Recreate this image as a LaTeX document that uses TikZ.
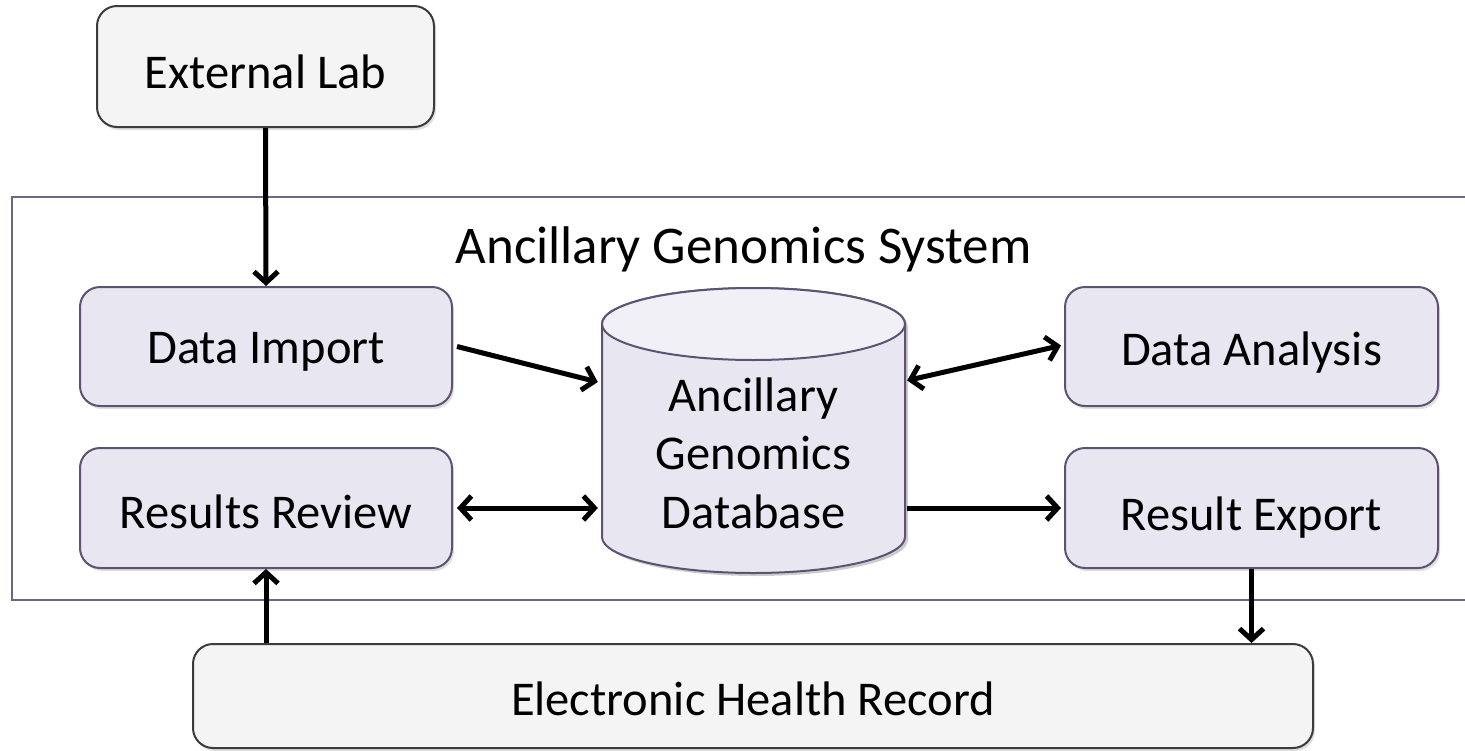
\documentclass[tikz,border=0pt]{standalone}
\usepackage{fontspec}
\setmainfont{Carlito}
\usetikzlibrary{arrows.meta,shadows,calc}
\definecolor{boxfill}{HTML}{E8E6F0}
\definecolor{boxline}{HTML}{5E5273}
\definecolor{grayfill}{HTML}{F4F4F4}
\definecolor{grayline}{HTML}{3C3C3C}
\definecolor{frameline}{HTML}{6F6585}
\tikzset{
  txt/.style={font=\fontsize{48.5}{58.5}\selectfont},
  lift/.style={inner sep=0pt, text height=#1, text depth=0pt},
  modbox/.style={txt, draw=boxline, fill=boxfill, line width=2pt, rounded corners=20pt,
    drop shadow={shadow xshift=2pt, shadow yshift=-3pt, opacity=0.25}},
  extbox/.style={txt, draw=grayline, fill=grayfill, line width=2pt, rounded corners=20pt,
    drop shadow={shadow xshift=2pt, shadow yshift=-3pt, opacity=0.25}},
  arr/.style={line width=5pt, -{Straight Barb[length=11pt,width=24pt]}},
  biarr/.style={line width=5pt, {Straight Barb[length=11pt,width=24pt]}-{Straight Barb[length=11pt,width=24pt]}},
}
\begin{document}
\begin{tikzpicture}[x=1pt,y=-1pt]
\useasboundingbox (0,0) rectangle (1465,750);
\clip (0,0) rectangle (1465,750);

% system frame, running off the right edge
\draw[frameline, line width=2pt] (1520,197) -- (12,197) -- (12,600) -- (1520,600);
\node[font=\fontsize{53}{60}\selectfont, anchor=base] (title) at (743.5,263) {Ancillary Genomics System};

% outside systems
\node[extbox, lift=43pt, minimum width=337pt, minimum height=121pt] (ext) at (265.5,66.5) {External Lab};
\node[extbox, lift=38pt, minimum width=1120pt, minimum height=104pt] (ehr) at (753,696) {Electronic Health Record};

% modules
\node[modbox, lift=33pt, minimum width=372pt, minimum height=119pt] (imp) at (266,346.5) {Data Import};
\node[modbox, lift=40pt, minimum width=372pt, minimum height=120pt] (rev) at (266,508) {Results Review};
\node[modbox, lift=37pt, minimum width=373pt, minimum height=119pt] (ana) at (1251.5,346.5) {Data Analysis};
\node[modbox, lift=44pt, minimum width=373pt, minimum height=120pt] (exp) at (1251.5,508) {Result Export};

% database cylinder
\node[minimum width=303pt, minimum height=285pt, inner sep=0pt] (db) at (753.5,430.5) {};
\fill[black, opacity=0.2] (605,327) -- (605,540) arc[start angle=180,end angle=360,x radius=151.5pt,y radius=36pt]
  -- (908,327) arc[start angle=0,end angle=180,x radius=151.5pt,y radius=36pt] -- cycle;
\filldraw[fill=boxfill, draw=boxline, line width=2pt]
  (602,324) -- (602,537) arc[start angle=180,end angle=360,x radius=151.5pt,y radius=36pt]
  -- (905,324) arc[start angle=0,end angle=180,x radius=151.5pt,y radius=36pt] -- cycle;
\fill[fill=boxfill!60!white] (753.5,324) ellipse[x radius=151.5pt,y radius=36pt];
\draw[boxline, line width=2pt] (753.5,324) ellipse[x radius=151.5pt,y radius=36pt];
\node[txt, align=center] (dbtext) at (753.5,453) {Ancillary\\Genomics\\Database};

% connectors
\draw[arr] (ext.south) -- (imp.north);
\draw[arr] ($(imp.east)+(4,0)$) -- ($(db.west)+(-4,-48.5)$);
\draw[biarr] ($(rev.east)+(4,0)$) -- ($(db.west |- rev.east)+(-4,0)$);
\draw[biarr] ($(db.east)+(2,-50)$) -- ($(ana.west)+(-3,-1)$);
\draw[arr] ($(db.east |- exp.west)+(2,0)$) -- ($(exp.west)+(-3,0)$);
\draw[arr] (exp.south) -- (exp.south |- ehr.north);
\draw[arr] (rev.south |- ehr.north) -- (rev.south);
\end{tikzpicture}
\end{document}
